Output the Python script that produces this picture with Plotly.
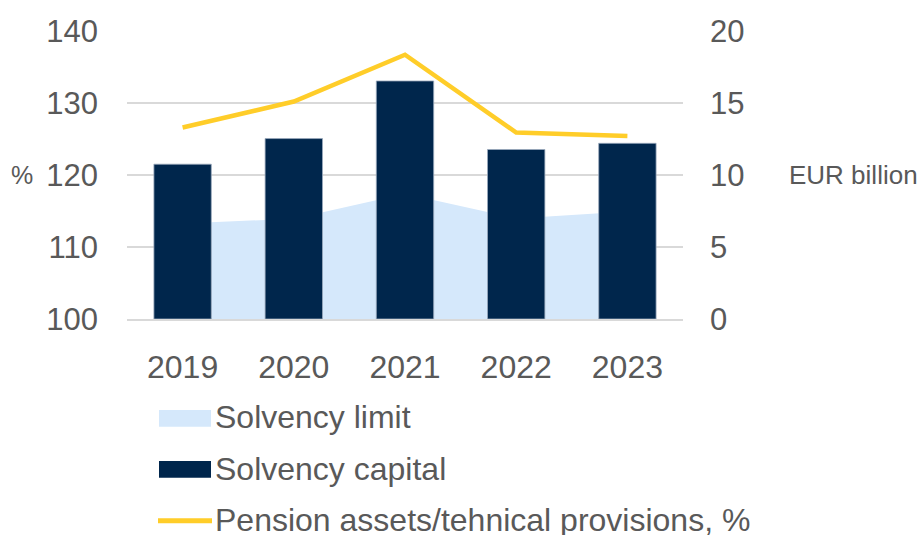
import plotly.graph_objects as go

# Data
years = ["2019", "2020", "2021", "2022", "2023"]
solvency_limit = [6.63, 6.97, 8.70, 6.98, 7.47]        # EUR billion
solvency_capital = [10.75, 12.53, 16.53, 11.77, 12.20]  # EUR billion
pension_ratio = [126.6, 130.2, 136.7, 125.9, 125.4]     # %

left_ticks = [100, 110, 120, 130, 140]
right_ticks = [0, 5, 10, 15, 20]

legend_labels = ["Solvency limit", "Solvency capital",
                 "Pension assets/tehnical provisions, %"]

# Styling
FONT = "Liberation Sans, Arial, sans-serif"
TEXT = "#595959"
GRID = "#D9D9D9"
C_LIMIT = "#D5E8FB"
C_CAPITAL = "#00264C"
C_RATIO = "#FFCD29"

W, H = 921, 535
L, R, T, B = 127, 238, 31, 216
PW, PH = W - L - R, H - T - B


def px_x(p):
    return (p - L) / PW


def px_y(p):
    return (H - B - p) / PH


fig = go.Figure()

# Area (bottom layer) on the EUR axis
fig.add_trace(go.Scatter(
    x=years, y=solvency_limit, yaxis="y", mode="none",
    fill="tozeroy", fillcolor=C_LIMIT, name=legend_labels[0],
    showlegend=False,
))

# Bars on an overlaid EUR axis so they sit above the area
fig.add_trace(go.Bar(
    x=years, y=solvency_capital, yaxis="y2", name=legend_labels[1],
    marker=dict(color=C_CAPITAL, line=dict(color="#9AAABD", width=0.8)),
    showlegend=False,
))

# Ratio line on the % axis
fig.add_trace(go.Scatter(
    x=years, y=pension_ratio, yaxis="y3", mode="lines",
    line=dict(color=C_RATIO, width=4.5), name=legend_labels[2],
    showlegend=False,
))

ytickfont = dict(family=FONT, size=31, color=TEXT)
xtickfont = dict(family=FONT, size=32, color=TEXT)

fig.update_layout(
    width=W, height=H,
    margin=dict(l=L, r=R, t=T, b=B),
    paper_bgcolor="white", plot_bgcolor="white",
    bargap=0.484,
    xaxis=dict(
        type="category", tickfont=xtickfont, showgrid=False,
        showline=True, linecolor=GRID, linewidth=2,
        ticks="", ticklabelstandoff=19,
    ),
    yaxis=dict(
        side="right", range=[0, 20], tickvals=right_ticks,
        tickfont=ytickfont, showgrid=True, gridcolor=GRID, gridwidth=1.5,
        zeroline=False, ticks="", ticklabelstandoff=26,
    ),
    yaxis2=dict(
        overlaying="y", range=[0, 20], visible=False,
    ),
    yaxis3=dict(
        overlaying="y", side="left", range=[100, 140], tickvals=left_ticks,
        tickfont=ytickfont, showgrid=False, zeroline=False,
        ticks="", ticklabelstandoff=28,
    ),
    font=dict(family=FONT, color=TEXT),
)

# Axis unit labels
fig.add_annotation(x=px_x(22), y=0.5, xref="paper", yref="paper",
                   text="%", showarrow=False, xanchor="center",
                   font=dict(family=FONT, size=25, color=TEXT))
fig.add_annotation(x=px_x(787), y=0.5, xref="paper", yref="paper",
                   text="EUR billion", showarrow=False, xanchor="left",
                   font=dict(family=FONT, size=26, color=TEXT))

# Legend
fig.add_shape(type="rect", xref="paper", yref="paper",
              x0=px_x(159), x1=px_x(211), y0=px_y(426.7), y1=px_y(410),
              fillcolor=C_LIMIT, line=dict(width=0))
fig.add_shape(type="rect", xref="paper", yref="paper",
              x0=px_x(159), x1=px_x(211), y0=px_y(477.7), y1=px_y(461),
              fillcolor=C_CAPITAL, line=dict(width=0))
fig.add_shape(type="line", xref="paper", yref="paper",
              x0=px_x(158), x1=px_x(212), y0=px_y(520.7), y1=px_y(520.7),
              line=dict(color=C_RATIO, width=5))
for label, cy in zip(legend_labels, [417, 468.5, 519.5]):
    fig.add_annotation(x=px_x(214), y=px_y(cy), xref="paper", yref="paper",
                       text=label, showarrow=False, xanchor="left",
                       yanchor="middle", borderpad=0,
                       font=dict(family=FONT, size=32, color=TEXT))

fig.write_html("out.html")
